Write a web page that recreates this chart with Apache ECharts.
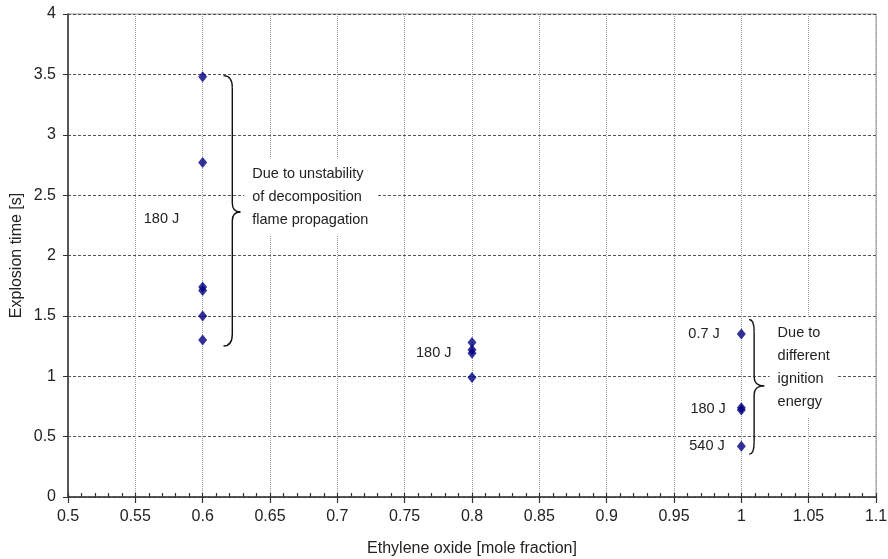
<!DOCTYPE html>
<html>
<head>
<meta charset="utf-8">
<script src="https://cdn.jsdelivr.net/npm/echarts@6/dist/echarts.min.js"></script>
<style>
html,body{margin:0;padding:0;background:#fff;}
#chart{width:888px;height:559px;}
</style>
</head>
<body>
<div id="chart"></div>
<script>
// ---- data ----
const moleFraction = [0.6, 0.6, 0.6, 0.6, 0.6, 0.6, 0.8, 0.8, 0.8, 0.8, 1.0, 1.0, 1.0, 1.0];
const explosionTime = [3.48, 2.77, 1.74, 1.71, 1.50, 1.30, 1.28, 1.22, 1.19, 0.99, 1.35, 0.74, 0.72, 0.42];

const xTicks = [0.5, 0.55, 0.6, 0.65, 0.7, 0.75, 0.8, 0.85, 0.9, 0.95, 1, 1.05, 1.1];
const yTicks = [0, 0.5, 1, 1.5, 2, 2.5, 3, 3.5, 4];

// annotation texts
const labelX = [0.5826, 0.7848, 0.984, 0.9885, 0.9877, 0.6309, 1.0210];
const labelY = [2.30, 1.19, 1.347, 0.726, 0.425, 2.484, 1.072];
const labelText = ['180 J', '180 J', '0.7 J', '180 J', '540 J',
  'Due to unstability\nof decomposition\nflame propagation',
  'Due to\ndifferent\nignition\nenergy'];
const labelAlign = ['right', 'right', 'right', 'right', 'right', 'left', 'left'];

// braces: [xEnd, xSpine, xTip, yTop, yMid, yBottom]
const braces = [
  [0.6155, 0.6220, 0.6280, 3.49, 2.36, 1.25],
  [1.0058, 1.0095, 1.0170, 1.47, 0.92, 0.355]
];

const FONT = 'Liberation Sans, Arial, sans-serif';
const chart = echarts.init(document.getElementById('chart'));

const points = moleFraction.map((x, i) => [x, explosionTime[i]]);
const labelData = labelX.map((x, i) => [x, labelY[i], i]);

function fmt(v) { return String(+v.toFixed(2)); }

chart.setOption({
  backgroundColor: '#fff',
  animation: false,
  grid: { left: 68, right: 12, top: 14, bottom: 62, show: true, borderColor: '#999', borderWidth: 1,
          containLabel: false, outerBoundsMode: 'none' },
  xAxis: [{
    type: 'value', min: xTicks[0], max: xTicks[xTicks.length - 1], interval: 0.05,
    position: 'bottom',
    name: 'Ethylene oxide [mole fraction]', nameLocation: 'middle', nameGap: 44, nameMoveOverlap: false,
    nameTextStyle: { fontSize: 16, color: '#222', fontFamily: FONT },
    axisLine: { show: true, onZero: false, lineStyle: { color: '#333', width: 1.5 } },
    axisTick: { show: true, length: 6, lineStyle: { color: '#333', width: 1.2 } },
    axisLabel: { fontSize: 16, color: '#222', fontFamily: FONT, margin: 12, formatter: fmt },
    splitLine: { show: true, lineStyle: { color: '#999', type: 'dotted', width: 1 } }
  }, {
    type: 'value', min: xTicks[0], max: xTicks[xTicks.length - 1], interval: 0.01,
    position: 'bottom', gridIndex: 0,
    axisLine: { show: false },
    axisTick: { show: true, inside: true, length: 4, lineStyle: { color: '#333', width: 1.2 } },
    axisLabel: { show: false },
    splitLine: { show: false }
  }],
  yAxis: {
    type: 'value', min: yTicks[0], max: yTicks[yTicks.length - 1], interval: 0.5,
    name: 'Explosion time [s]', nameLocation: 'middle', nameGap: 43, nameMoveOverlap: false,
    nameTextStyle: { fontSize: 16, color: '#222', fontFamily: FONT },
    axisLine: { show: true, onZero: false, lineStyle: { color: '#333', width: 1.5 } },
    axisTick: { show: true, length: 5, lineStyle: { color: '#333' } },
    axisLabel: { fontSize: 16, color: '#222', fontFamily: FONT, margin: 12, formatter: fmt },
    splitLine: { show: true, lineStyle: { color: '#555', type: [3, 2], width: 1 } }
  },
  series: [{
    type: 'custom',
    coordinateSystem: 'cartesian2d',
    data: labelData,
    clip: false,
    z: 3,
    renderItem: function (params, api) {
      const i = api.value(2);
      const p = api.coord([api.value(0), api.value(1)]);
      const multi = labelText[i].indexOf('\n') >= 0;
      return {
        type: 'text',
        x: p[0], y: p[1],
        style: {
          text: labelText[i],
          fill: '#222',
          font: '14.5px ' + FONT,
          align: labelAlign[i],
          verticalAlign: 'middle',
          lineHeight: 23,
          backgroundColor: multi ? '#fff' : null,
          padding: multi ? [4, 8, 4, 8] : 0
        }
      };
    }
  }, {
    type: 'custom',
    coordinateSystem: 'cartesian2d',
    data: braces,
    clip: false,
    z: 4,
    renderItem: function (params, api) {
      const c = (x, y) => api.coord([x, y]);
      const x0 = c(api.value(0), 0)[0];
      const x1 = c(api.value(1), 0)[0];
      const x2 = c(api.value(2), 0)[0];
      const yT = c(0, api.value(3))[1];
      const yM = c(0, api.value(4))[1];
      const yB = c(0, api.value(5))[1];
      const r = 12, rm = 9;
      const st = { stroke: '#111', lineWidth: 1.4, fill: null };
      return {
        type: 'group',
        children: [
          { type: 'bezierCurve', shape: { x1: x0, y1: yT, cpx1: x1, cpy1: yT, x2: x1, y2: yT + r }, style: st },
          { type: 'line', shape: { x1: x1, y1: yT + r, x2: x1, y2: yM - rm }, style: st },
          { type: 'bezierCurve', shape: { x1: x1, y1: yM - rm, cpx1: x1, cpy1: yM, x2: x2, y2: yM }, style: st },
          { type: 'bezierCurve', shape: { x1: x2, y1: yM, cpx1: x1, cpy1: yM, x2: x1, y2: yM + rm }, style: st },
          { type: 'line', shape: { x1: x1, y1: yM + rm, x2: x1, y2: yB - r }, style: st },
          { type: 'bezierCurve', shape: { x1: x1, y1: yB - r, cpx1: x1, cpy1: yB, x2: x0, y2: yB }, style: st }
        ]
      };
    }
  }, {
    type: 'scatter',
    xAxisIndex: 0,
    data: points,
    symbol: 'diamond',
    symbolSize: [9, 11],
    itemStyle: { color: '#000080' },
    z: 5
  }]
});
</script>
</body>
</html>
